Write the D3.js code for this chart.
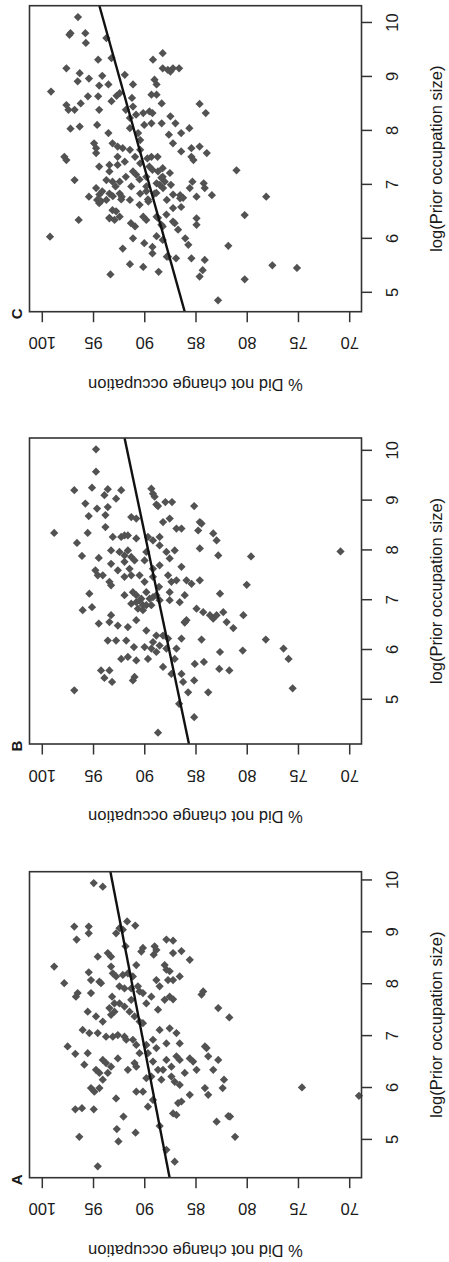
<!DOCTYPE html>
<html>
<head>
<meta charset="utf-8">
<script src="https://cdn.jsdelivr.net/npm/d3@7"></script>
<style>
  body { margin: 0; background: #fff; }
  text { font-family: "Liberation Sans", Arial, sans-serif; fill: #1a1a1a; }
</style>
</head>
<body>
<script>
// panel letters, tick values and the fitted lines (intercept, slope)
var panelLabels = ["A", "B", "C"];
var xTicks = [5, 6, 7, 8, 9, 10];
var yTicks = [70, 75, 80, 85, 90, 95, 100];
var yLimits = [70, 100];
var fitA = [83.34, 0.98];
var fitB = [81.43, 1.023];
var fitC = [79.22, 1.469];

// [log(prior occupation size), % did not change occupation]
var pointsA = [[9.95,94.93],[9.88,94.05],[9.11,96.83],[9.11,95.42],[8.98,95.42],[8.86,96.60],[8.98,92.75],[9.08,92.42],[9.05,92.09],[9.21,91.67],[9.13,90.88],[8.73,91.83],[8.53,94.54],[8.60,93.56],[8.53,93.24],[8.70,90.13],[8.63,90.29],[8.73,88.99],[8.66,88.82],[8.57,89.08],[8.86,87.84],[8.84,87.19],[8.64,86.37],[8.60,87.19],[8.47,85.56],[8.34,98.79],[8.02,97.81],[8.23,95.42],[8.08,95.20],[7.83,95.20],[7.83,96.50],[7.76,96.67],[8.05,94.38],[8.02,94.22],[8.34,93.24],[8.21,93.07],[8.15,92.75],[8.18,92.09],[8.21,91.60],[8.15,91.11],[8.37,90.78],[7.96,92.42],[7.92,91.93],[7.92,91.27],[7.96,90.62],[7.86,90.46],[7.83,90.13],[8.08,88.82],[7.96,88.50],[8.37,88.01],[8.28,87.84],[8.25,87.52],[8.08,87.68],[8.08,87.19],[8.15,86.54],[7.86,84.25],[7.80,84.41],[7.54,82.78],[7.36,81.70],[7.70,88.01],[7.76,87.52],[7.71,87.19],[7.51,88.66],[7.63,89.80],[7.76,89.31],[7.76,93.14],[7.63,92.91],[7.54,93.40],[7.63,92.42],[7.57,91.93],[7.47,91.44],[7.70,91.27],[7.38,90.95],[7.28,90.46],[7.25,90.13],[7.47,95.52],[7.12,96.01],[7.06,95.36],[7.06,94.54],[7.38,94.71],[7.28,94.05],[7.47,92.91],[7.41,93.24],[6.99,93.73],[6.99,93.07],[7.02,92.58],[6.99,91.93],[6.93,91.76],[6.93,91.11],[6.83,90.78],[6.83,89.80],[6.93,89.15],[7.12,88.50],[7.15,87.52],[7.06,86.86],[6.86,86.54],[6.86,87.84],[6.77,88.82],[6.67,89.64],[6.67,90.46],[6.80,97.48],[6.66,96.73],[6.67,95.52],[6.45,95.85],[6.35,94.71],[6.54,94.05],[6.48,93.73],[6.41,93.24],[6.29,94.38],[6.16,94.05],[6.29,93.56],[6.57,92.58],[6.35,91.60],[6.48,90.95],[6.41,90.78],[6.51,89.15],[6.35,88.66],[6.35,88.17],[6.54,87.84],[6.41,87.35],[6.61,86.86],[6.54,86.54],[6.22,89.31],[6.16,88.33],[6.22,87.35],[6.12,87.03],[6.06,86.54],[6.29,86.05],[6.57,85.56],[6.51,85.23],[6.35,84.90],[6.80,84.08],[6.77,83.92],[6.61,83.76],[6.35,83.27],[6.54,82.78],[6.16,82.22],[6.00,82.35],[5.87,83.76],[6.00,84.08],[5.87,85.56],[5.74,86.37],[5.71,86.70],[5.51,87.19],[5.48,86.86],[6.01,74.61],[5.85,69.05],[6.19,89.80],[5.93,90.13],[5.93,90.78],[5.77,89.15],[5.64,89.64],[5.80,92.75],[6.00,95.20],[5.93,94.87],[6.00,94.38],[5.59,96.73],[5.61,96.08],[5.59,94.93],[5.45,92.03],[5.21,92.68],[5.14,90.85],[5.06,96.34],[4.97,92.52],[5.27,88.50],[5.35,82.94],[5.46,81.80],[5.45,81.63],[5.06,81.14],[4.81,87.84],[4.58,87.03],[4.49,94.54]];

var pointsB = [[10.03,94.71],[9.58,94.71],[9.21,96.83],[9.26,95.10],[9.23,93.56],[9.21,92.25],[9.04,92.75],[9.24,89.31],[9.14,89.15],[9.08,88.99],[8.92,88.82],[8.89,88.66],[8.97,87.94],[8.97,87.29],[8.89,85.13],[8.94,95.75],[8.84,94.61],[9.11,93.89],[8.87,93.56],[8.71,93.79],[8.69,95.42],[8.67,91.27],[8.64,90.78],[8.35,98.79],[8.15,96.57],[8.35,95.52],[8.47,93.79],[8.27,93.07],[8.27,92.25],[8.30,91.93],[8.30,91.60],[8.24,90.78],[8.27,89.64],[8.20,89.15],[8.27,88.50],[8.57,88.17],[8.64,87.52],[8.44,86.86],[8.44,86.37],[8.57,84.58],[8.54,84.41],[8.40,84.74],[8.34,83.27],[8.20,82.94],[8.04,84.58],[7.90,82.78],[7.88,79.58],[7.98,70.85],[7.89,96.08],[7.85,94.44],[8.00,93.24],[7.97,92.42],[7.90,91.93],[8.00,91.60],[7.87,91.27],[7.80,90.95],[7.77,91.93],[7.73,93.24],[7.97,89.80],[7.80,89.97],[8.10,88.50],[7.97,87.84],[7.84,87.52],[8.00,87.03],[7.67,86.37],[7.40,86.86],[7.40,85.88],[7.33,85.39],[7.40,84.58],[7.31,80.00],[7.60,94.77],[7.50,94.54],[7.50,94.05],[7.37,93.40],[7.30,93.24],[7.60,92.58],[7.47,91.93],[7.63,91.44],[7.50,91.27],[7.50,90.46],[7.37,89.97],[7.63,89.15],[7.47,89.15],[7.70,88.50],[7.50,87.68],[7.37,87.35],[7.27,88.56],[7.13,95.36],[6.80,96.01],[6.86,95.10],[7.10,91.93],[7.16,91.11],[7.10,90.78],[7.03,90.29],[6.90,90.13],[6.83,90.62],[7.16,89.80],[7.03,89.48],[6.93,91.27],[6.96,90.78],[7.10,88.82],[7.00,88.50],[7.00,87.52],[7.16,87.52],[6.96,86.54],[7.10,86.05],[6.83,84.90],[6.76,84.25],[6.70,83.59],[6.63,83.27],[6.70,82.94],[7.13,82.61],[6.76,82.29],[6.56,81.96],[6.44,81.31],[6.70,80.33],[6.21,78.14],[6.03,76.41],[5.82,75.92],[5.23,75.52],[6.53,94.44],[6.70,93.24],[6.56,93.40],[6.49,92.58],[6.46,91.60],[6.60,90.78],[6.39,89.80],[6.29,88.82],[6.29,88.17],[6.16,89.15],[6.09,88.50],[6.23,87.68],[6.23,86.37],[6.56,86.05],[6.60,85.88],[6.21,84.41],[6.19,93.56],[6.19,92.75],[6.19,91.76],[6.06,91.01],[6.06,89.97],[6.03,89.31],[5.96,88.82],[6.03,87.84],[6.03,86.86],[5.82,92.25],[5.86,91.60],[5.79,90.78],[5.82,89.64],[5.66,88.17],[5.82,87.03],[5.72,85.07],[5.76,84.18],[5.96,82.61],[5.62,82.68],[5.59,81.70],[5.99,80.39],[5.59,94.22],[5.59,93.40],[5.44,93.89],[5.36,93.14],[5.39,91.11],[5.46,90.95],[5.52,87.35],[5.52,86.37],[5.36,86.21],[5.15,85.72],[5.39,85.13],[5.15,83.76],[5.19,96.83],[4.92,86.60],[4.65,85.13],[4.34,88.66],[6.99,90.46],[6.90,89.80],[6.80,90.13],[7.06,89.15],[6.90,89.31],[6.55,86.05]];

var pointsC = [[10.11,96.47],[9.81,97.2],[9.78,97.3],[9.81,95.75],[9.63,95.7],[9.72,93.7],[9.35,93.2],[9.32,94.5],[9.44,88.2],[9.32,89.15],[9.16,88.2],[9.13,87.7],[9.16,87.2],[9.16,86.6],[9.10,87.45],[9.16,97.6],[9.07,96.3],[8.92,96.5],[8.97,95.4],[9.02,94.1],[8.84,94.4],[8.86,93.5],[9.04,91.9],[8.86,91.1],[8.95,89.0],[8.86,88.8],[8.73,99.1],[8.64,95.5],[8.64,94.5],[8.65,92.7],[8.70,92.4],[8.61,91.2],[8.67,89.3],[8.67,88.8],[8.51,88.3],[8.50,84.6],[8.33,84.0],[8.48,97.6],[8.39,97.4],[8.39,96.8],[8.51,96.2],[8.39,94.4],[8.55,93.2],[8.39,91.8],[8.45,91.1],[8.30,90.8],[8.33,90.1],[8.36,89.5],[8.33,89.2],[8.11,90.0],[8.14,89.3],[8.14,88.3],[8.27,87.45],[8.14,86.96],[8.24,91.4],[8.04,97.2],[8.08,96.3],[8.11,94.6],[7.96,93.5],[8.05,91.4],[7.96,90.6],[7.83,90.4],[7.93,87.6],[7.96,86.4],[8.05,85.6],[7.77,87.2],[7.68,85.4],[7.71,84.6],[7.59,83.9],[7.52,85.4],[7.46,85.2],[7.77,94.9],[7.68,94.7],[7.59,94.7],[7.77,93.1],[7.71,92.6],[7.68,92.1],[7.65,91.4],[7.65,90.4],[7.52,90.9],[7.52,92.6],[7.34,94.4],[7.37,93.4],[7.37,92.6],[7.43,91.9],[7.40,90.4],[7.49,89.7],[7.52,89.3],[7.52,88.7],[7.52,97.8],[7.46,97.6],[7.34,89.5],[7.28,89.2],[7.31,88.2],[7.22,87.5],[7.62,86.4],[7.25,91.1],[7.19,90.8],[7.15,91.8],[7.15,89.8],[7.15,88.2],[7.06,88.0],[7.03,88.8],[7.00,88.5],[7.00,87.4],[7.09,93.7],[7.06,93.1],[7.06,92.4],[6.97,92.8],[7.09,96.8],[6.94,94.7],[6.88,94.1],[6.84,93.4],[6.78,95.4],[6.72,94.6],[6.66,94.4],[6.72,93.7],[6.84,92.4],[6.78,92.2],[6.72,91.4],[6.84,90.4],[6.88,89.8],[6.69,89.6],[6.84,89.0],[6.72,87.8],[6.81,86.5],[7.06,85.3],[6.78,84.9],[7.03,84.2],[6.94,84.1],[6.81,83.4],[6.75,86.5],[7.27,81.0],[6.78,78.1],[6.59,86.4],[6.53,93.1],[6.38,93.4],[6.35,92.9],[6.41,92.4],[6.29,91.3],[6.23,90.9],[6.41,90.1],[6.35,89.8],[6.41,88.8],[6.23,88.2],[6.32,87.2],[6.17,86.7],[6.38,84.9],[6.26,84.9],[6.35,96.4],[6.44,80.2],[6.05,88.8],[5.98,88.2],[6.01,91.1],[5.92,90.0],[5.85,89.2],[5.73,89.2],[5.82,92.1],[6.01,86.0],[5.89,85.7],[6.04,99.2],[5.87,81.8],[5.67,87.8],[5.64,86.9],[5.64,85.4],[5.61,84.1],[5.53,91.4],[5.48,90.1],[5.42,84.3],[5.30,84.6],[5.39,88.6],[5.34,93.3],[5.51,77.5],[5.46,75.1],[5.25,80.2],[4.86,82.8],[7.25,93.40],[7.25,88.66],[7.13,88.33],[6.82,94.38],[6.70,94.22],[6.79,93.07],[6.73,92.25],[6.63,90.46],[6.73,89.64],[6.57,87.19],[6.76,86.21],[6.39,93.40],[6.51,92.75],[6.39,88.66],[6.26,88.33],[6.45,87.84],[6.29,87.03],[6.97,91.27],[7.10,90.46],[6.97,89.80],[6.85,88.82],[6.94,88.17],[6.82,87.19],[6.94,85.56],[5.67,87.68]];

var panels = [
  { label: panelLabels[0], points: pointsA, fit: fitA },
  { label: panelLabels[1], points: pointsB, fit: fitB },
  { label: panelLabels[2], points: pointsC, fit: fitC }
];

// the figure is laid out side by side, then turned a quarter turn
var W = 1262, H = 449;
var lefts = [84.3, 518, 950.3];
var plotTop = 29.5, pw = 306, ph = 332;
var fontSize = 16.5;

var svg = d3.select("body").append("svg")
  .attr("width", H)
  .attr("height", W);

var fig = svg.append("g")
  .attr("transform", "translate(0," + W + ") rotate(-90)");

// R style axis limits: 4% beyond the range
function pad(r) {
  var e = (r[1] - r[0]) * 0.04;
  return [r[0] - e, r[1] + e];
}

panels.forEach(function(p, i) {
  var g = fig.append("g")
    .attr("transform", "translate(" + lefts[i] + "," + plotTop + ")");

  var x = d3.scaleLinear()
    .domain(pad(d3.extent(p.points, function(d) { return d[0]; })))
    .range([0, pw]);
  var y = d3.scaleLinear()
    .domain(pad(yLimits))
    .range([ph, 0]);

  // points (filled diamonds)
  var sym = d3.symbol().type(d3.symbolSquare).size(34);
  g.selectAll(".pt")
    .data(p.points)
    .enter().append("path")
    .attr("class", "pt")
    .attr("d", sym)
    .attr("transform", function(d) {
      return "translate(" + x(d[0]) + "," + y(d[1]) + ") rotate(45)";
    })
    .attr("fill", "#525252");

  // fitted line across the whole plot region
  var xd = x.domain();
  g.append("line")
    .attr("x1", x(xd[0]))
    .attr("y1", y(p.fit[0] + p.fit[1] * xd[0]))
    .attr("x2", x(xd[1]))
    .attr("y2", y(p.fit[0] + p.fit[1] * xd[1]))
    .attr("stroke", "#111")
    .attr("stroke-width", 2.4);

  // box
  g.append("rect")
    .attr("width", pw)
    .attr("height", ph)
    .attr("fill", "none")
    .attr("stroke", "#333")
    .attr("stroke-width", 1.6);

  // x axis
  var xa = g.append("g")
    .attr("transform", "translate(0," + ph + ")")
    .call(d3.axisBottom(x).tickValues(xTicks).tickSize(10.5).tickFormat(d3.format("d")));
  xa.select(".domain").remove();
  xa.selectAll("line").attr("stroke", "#333").attr("stroke-width", 1.5);
  xa.selectAll("text")
    .attr("y", 31)
    .attr("dy", "0.36em")
    .style("font-size", fontSize + "px")
    .attr("fill", "#1a1a1a");

  // y axis, labels parallel to the axis
  var ya = g.append("g")
    .call(d3.axisLeft(y).tickValues(yTicks).tickSize(10.5).tickFormat(d3.format("d")));
  ya.select(".domain").remove();
  ya.selectAll("line").attr("stroke", "#333").attr("stroke-width", 1.5);
  ya.selectAll("text")
    .attr("x", null)
    .attr("dy", "0.36em")
    .attr("text-anchor", "middle")
    .attr("transform", "translate(-31.5,0) rotate(-90)")
    .style("font-size", fontSize + "px")
    .attr("fill", "#1a1a1a");

  // axis titles
  g.append("text")
    .attr("x", pw / 2)
    .attr("y", 437.5 - plotTop)
    .attr("dy", "0.3em")
    .attr("text-anchor", "middle")
    .style("font-size", fontSize + "px")
    .text("log(Prior occupation size)");

  g.append("text")
    .attr("transform", "translate(-72," + (ph / 2) + ") rotate(-90)")
    .attr("dy", "0.3em")
    .attr("text-anchor", "middle")
    .style("font-size", fontSize + "px")
    .text("% Did not change occupation");

  // panel letter
  fig.append("text")
    .attr("x", lefts[i] - 2)
    .attr("y", 21.5)
    .attr("text-anchor", "middle")
    .style("font-size", "15px")
    .style("font-weight", "bold")
    .text(p.label);
});
</script>
</body>
</html>
